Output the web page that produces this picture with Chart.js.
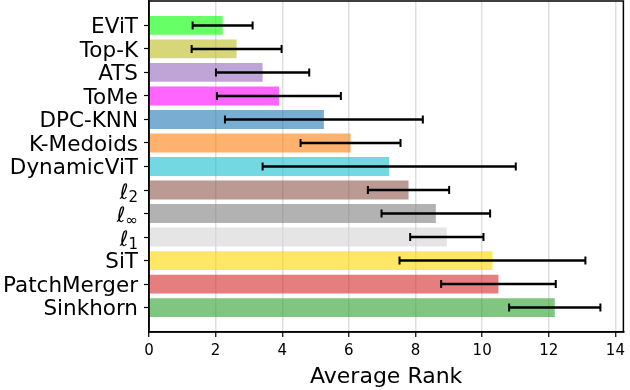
<!DOCTYPE html>
<html><head><meta charset="utf-8">
<script src="https://cdn.jsdelivr.net/npm/chart.js@4/dist/chart.umd.min.js"></script>
<style>html,body{margin:0;padding:0;background:#fff}#wrap{width:630px;height:390px}</style>
</head><body><div id="wrap"><canvas id="c"></canvas></div>
<script>
const methods = ['EViT','Top-K','ATS','ToMe','DPC-KNN','K-Medoids','DynamicViT','ℓ|2','ℓ|∞','ℓ|1','SiT','PatchMerger','Sinkhorn'];
const avgRank = [2.21,2.63,3.41,3.90,5.25,6.05,7.21,7.79,8.61,8.94,10.31,10.49,12.18];
const stdRank = [0.90,1.35,1.40,1.86,2.97,1.50,3.80,1.22,1.63,1.10,2.79,1.72,1.37];
const xTicks = [0,2,4,6,8,10,12,14];
const colors = ['rgba(0,255,0,0.6)','rgba(188,189,34,0.6)','rgba(148,103,189,0.6)','rgba(255,0,255,0.6)','rgba(31,119,180,0.6)','rgba(255,127,14,0.6)','rgba(23,190,207,0.6)','rgba(140,86,75,0.6)','rgba(127,127,127,0.6)','rgba(211,211,211,0.6)','rgba(255,215,0,0.6)','rgba(214,39,40,0.6)','rgba(44,160,44,0.6)'];
const FONT = 'DejaVu Sans';

const points = avgRank.map((v,i)=>({x:v,y:i}));

const errPlugin = {
  id:'err',
  afterDatasetsDraw(chart){
    const ctx=chart.ctx, xs=chart.scales.x, ys=chart.scales.y;
    ctx.save();
    ctx.strokeStyle='#000';
    avgRank.forEach((v,i)=>{
      const y=ys.getPixelForValue(i);
      const x1=xs.getPixelForValue(v-stdRank[i]), x2=xs.getPixelForValue(v+stdRank[i]);
      ctx.lineWidth=2.5;
      ctx.beginPath();ctx.moveTo(x1,y);ctx.lineTo(x2,y);ctx.stroke();
      ctx.lineWidth=2;
      ctx.beginPath();ctx.moveTo(x1,y-4);ctx.lineTo(x1,y+4);ctx.moveTo(x2,y-4);ctx.lineTo(x2,y+4);ctx.stroke();
    });
    ctx.restore();
  },
  afterDraw(chart){
    const ctx=chart.ctx, ys=chart.scales.y, ca=chart.chartArea;
    ctx.save();
    ctx.fillStyle='#000';
    ctx.textBaseline='alphabetic';
    const right=ca.left-11;
    methods.forEach((m,i)=>{
      const y=ys.getPixelForValue(i);
      if(m.includes('|')){
        const [main,sub]=m.split('|');
        ctx.font='italic 21px '+FONT;
        const mw=ctx.measureText(main).width;
        ctx.font='15px '+FONT;
        const sw=ctx.measureText(sub).width;
        const x0=right-sw-mw;
        ctx.font='italic 21px '+FONT;
        ctx.textAlign='left';
        ctx.fillText(main,x0,y+8.8);
        ctx.font='15px '+FONT;
        ctx.fillText(sub,x0+mw,y+11.7);
      } else {
        ctx.font='21.5px '+FONT;
        ctx.textAlign='right';
        ctx.fillText(m,right,y+7.8);
      }
    });
    ctx.strokeStyle='#000';ctx.lineWidth=1.5;
    ctx.strokeRect(ca.left,ca.top,ca.right-ca.left,ca.bottom-ca.top);
    ctx.restore();
  }
};

new Chart(document.getElementById('c'),{
  type:'bar',
  data:{labels:methods,datasets:[{data:points,backgroundColor:colors,borderWidth:0,barPercentage:1,categoryPercentage:0.8}]},
  options:{
    indexAxis:'y',responsive:true,maintainAspectRatio:false,animation:false,
    layout:{padding:{top:1,right:4,left:0,bottom:0}},
    plugins:{legend:{display:false},tooltip:{enabled:false}},
    scales:{
      x:{type:'linear',min:0,max:14.24,
        ticks:{stepSize:2,includeBounds:false,color:'#000',font:{family:FONT,size:15},padding:5},
        afterBuildTicks(s){s.ticks=xTicks.map(v=>({value:v}));},
        grid:{color:'rgba(0,0,0,0.13)',lineWidth:1.5,tickColor:'#000',tickLength:5,tickWidth:1.2},
        border:{color:'#000',width:1.5},
        title:{display:true,text:'Average Rank',color:'#000',font:{family:FONT,size:22},padding:{top:1,bottom:0}},
        afterFit(s){s.height=58;}
      },
      y:{type:'linear',reverse:true,min:-1.04,max:13.04,offset:false,
        afterBuildTicks(s){s.ticks=methods.map((m,i)=>({value:i}));},
        ticks:{display:false},
        grid:{offset:false,drawOnChartArea:false,drawTicks:true,tickLength:5,tickColor:'#000',tickWidth:1.2},
        border:{color:'#000',width:1.5},
        afterFit(s){s.width=149;}
      }
    }
  },
  plugins:[errPlugin]
});
</script></body></html>
